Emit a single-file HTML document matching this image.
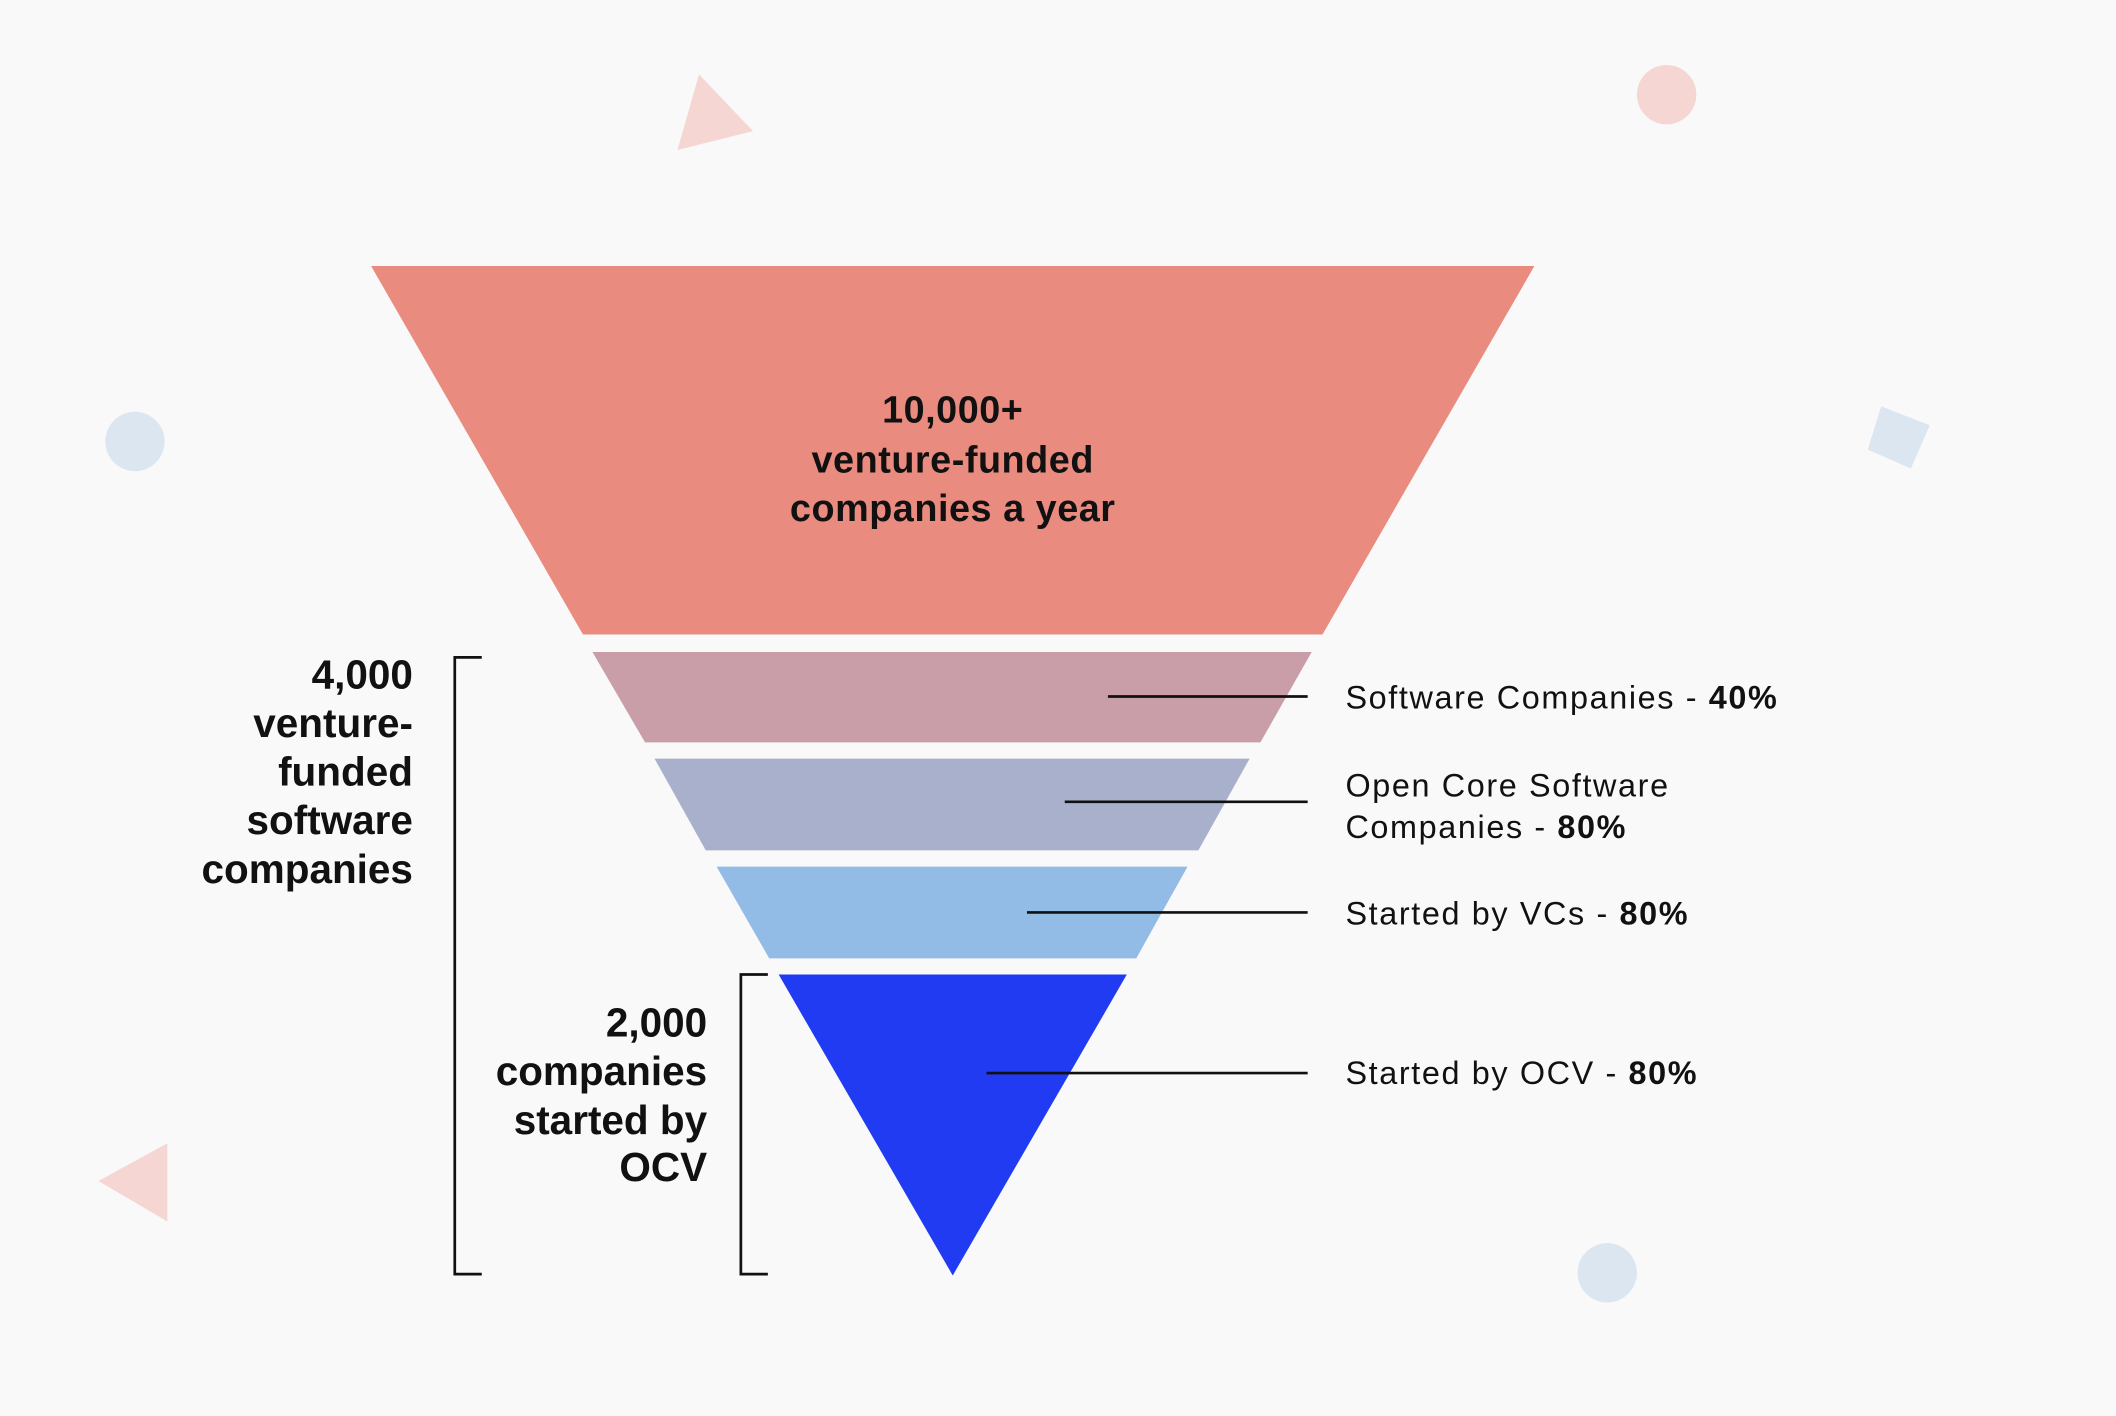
<!DOCTYPE html>
<html><head><meta charset="utf-8"><style>
html,body{margin:0;padding:0;background:#F9F9F9;}
svg{display:block;}
text{font-family:"Liberation Sans",sans-serif;fill:#111;}
</style></head><body>
<svg width="2116" height="1416" viewBox="0 0 1568 1049" xmlns="http://www.w3.org/2000/svg">
<rect width="1568" height="1049" fill="#F9F9F9"/>
<polygon points="518,55 558,97 502,111" fill="#F5D6D3"/>
<circle cx="1235" cy="70" r="22" fill="#F5D6D3"/>
<circle cx="100" cy="327" r="22" fill="#DCE6F1"/>
<polygon points="1394,301 1430,315 1416,347 1384,333" fill="#DCE6F1"/>
<polygon points="124,847 124,905 73,875" fill="#F5D6D3"/>
<circle cx="1191" cy="943" r="22" fill="#DCE6F1"/>
<polygon points="275,197 1137,197 980,470 432,470" fill="#EA8B7F"/>
<polygon points="439,483 972,483 934,550 478,550" fill="#C99EA8"/>
<polygon points="485,562 926,562 888,630 523,630" fill="#A9B0CC"/>
<polygon points="531,642 880,642 842,710 570,710" fill="#92BBE5"/>
<polygon points="577,722 835,722 706,945" fill="#213BF2"/>
<g stroke="#111" stroke-width="2">
<line x1="821" y1="516" x2="969" y2="516"/>
<line x1="789" y1="594" x2="969" y2="594"/>
<line x1="761" y1="676" x2="969" y2="676"/>
<line x1="731" y1="795" x2="969" y2="795"/>
</g>
<g stroke="#111" stroke-width="2" fill="none">
<polyline points="357,487 337,487 337,944 357,944"/>
<polyline points="569,722 549,722 549,944 569,944"/>
</g>
<g text-anchor="middle" font-size="28" font-weight="bold" letter-spacing="0.4">
<text x="706" y="313">10,000+</text>
<text x="706" y="350">venture-funded</text>
<text x="706" y="386">companies a year</text>
</g>
<g text-anchor="end" font-size="30" font-weight="bold">
<text x="306" y="510">4,000</text>
<text x="306" y="546">venture-</text>
<text x="306" y="582">funded</text>
<text x="306" y="618">software</text>
<text x="306" y="654">companies</text>
<text x="524" y="768">2,000</text>
<text x="524" y="804">companies</text>
<text x="524" y="840">started by</text>
<text x="524" y="875">OCV</text>
</g>
<g font-size="24" letter-spacing="1.2">
<text x="997" y="525">Software Companies - <tspan font-weight="bold">40%</tspan></text>
<text x="997" y="590">Open Core Software</text>
<text x="997" y="621">Companies - <tspan font-weight="bold">80%</tspan></text>
<text x="997" y="685">Started by VCs - <tspan font-weight="bold">80%</tspan></text>
<text x="997" y="803">Started by OCV - <tspan font-weight="bold">80%</tspan></text>
</g>
</svg>
</body></html>
